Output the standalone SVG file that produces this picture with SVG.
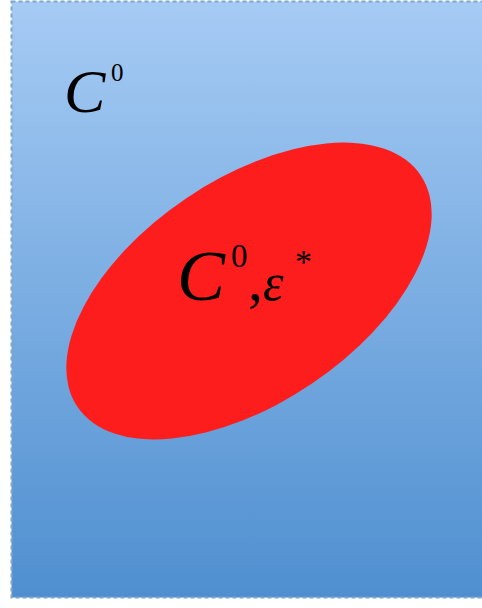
<svg xmlns="http://www.w3.org/2000/svg" width="482" height="608" viewBox="0 0 482 608">
<defs>
<linearGradient id="bg" x1="0" y1="0" x2="0" y2="1">
<stop offset="0" stop-color="#a6cbf4"/>
<stop offset="1" stop-color="#4f8fd0"/>
</linearGradient>
<style>
.m{font-family:"Liberation Serif","Times New Roman",serif;fill:#000;}
.i{font-style:italic;}
</style>
</defs>
<rect width="482" height="608" fill="#ffffff"/>
<g id="outer">
<rect x="11.500" y="1.500" width="476" height="596" fill="url(#bg)" stroke="#7fa6cc" stroke-width="2" stroke-dasharray="4,3"/>
<text class="m i" x="64" y="112" font-size="62">C</text>
<text class="m" x="111" y="81" font-size="25">0</text>
</g>
<g id="inner">
<ellipse cx="249" cy="291" rx="207" ry="112" transform="rotate(-34 249 291)" fill="#fe1d1d"/>
<text class="m i" x="177" y="300" font-size="72">C</text>
<text class="m" x="231" y="267" font-size="33">0</text>
<text class="m" x="248" y="300" font-size="60">,</text>
<text class="m i" x="263" y="300" font-size="52">ε</text>
<text class="m" x="295" y="273" font-size="34">*</text>
</g>
</svg>
